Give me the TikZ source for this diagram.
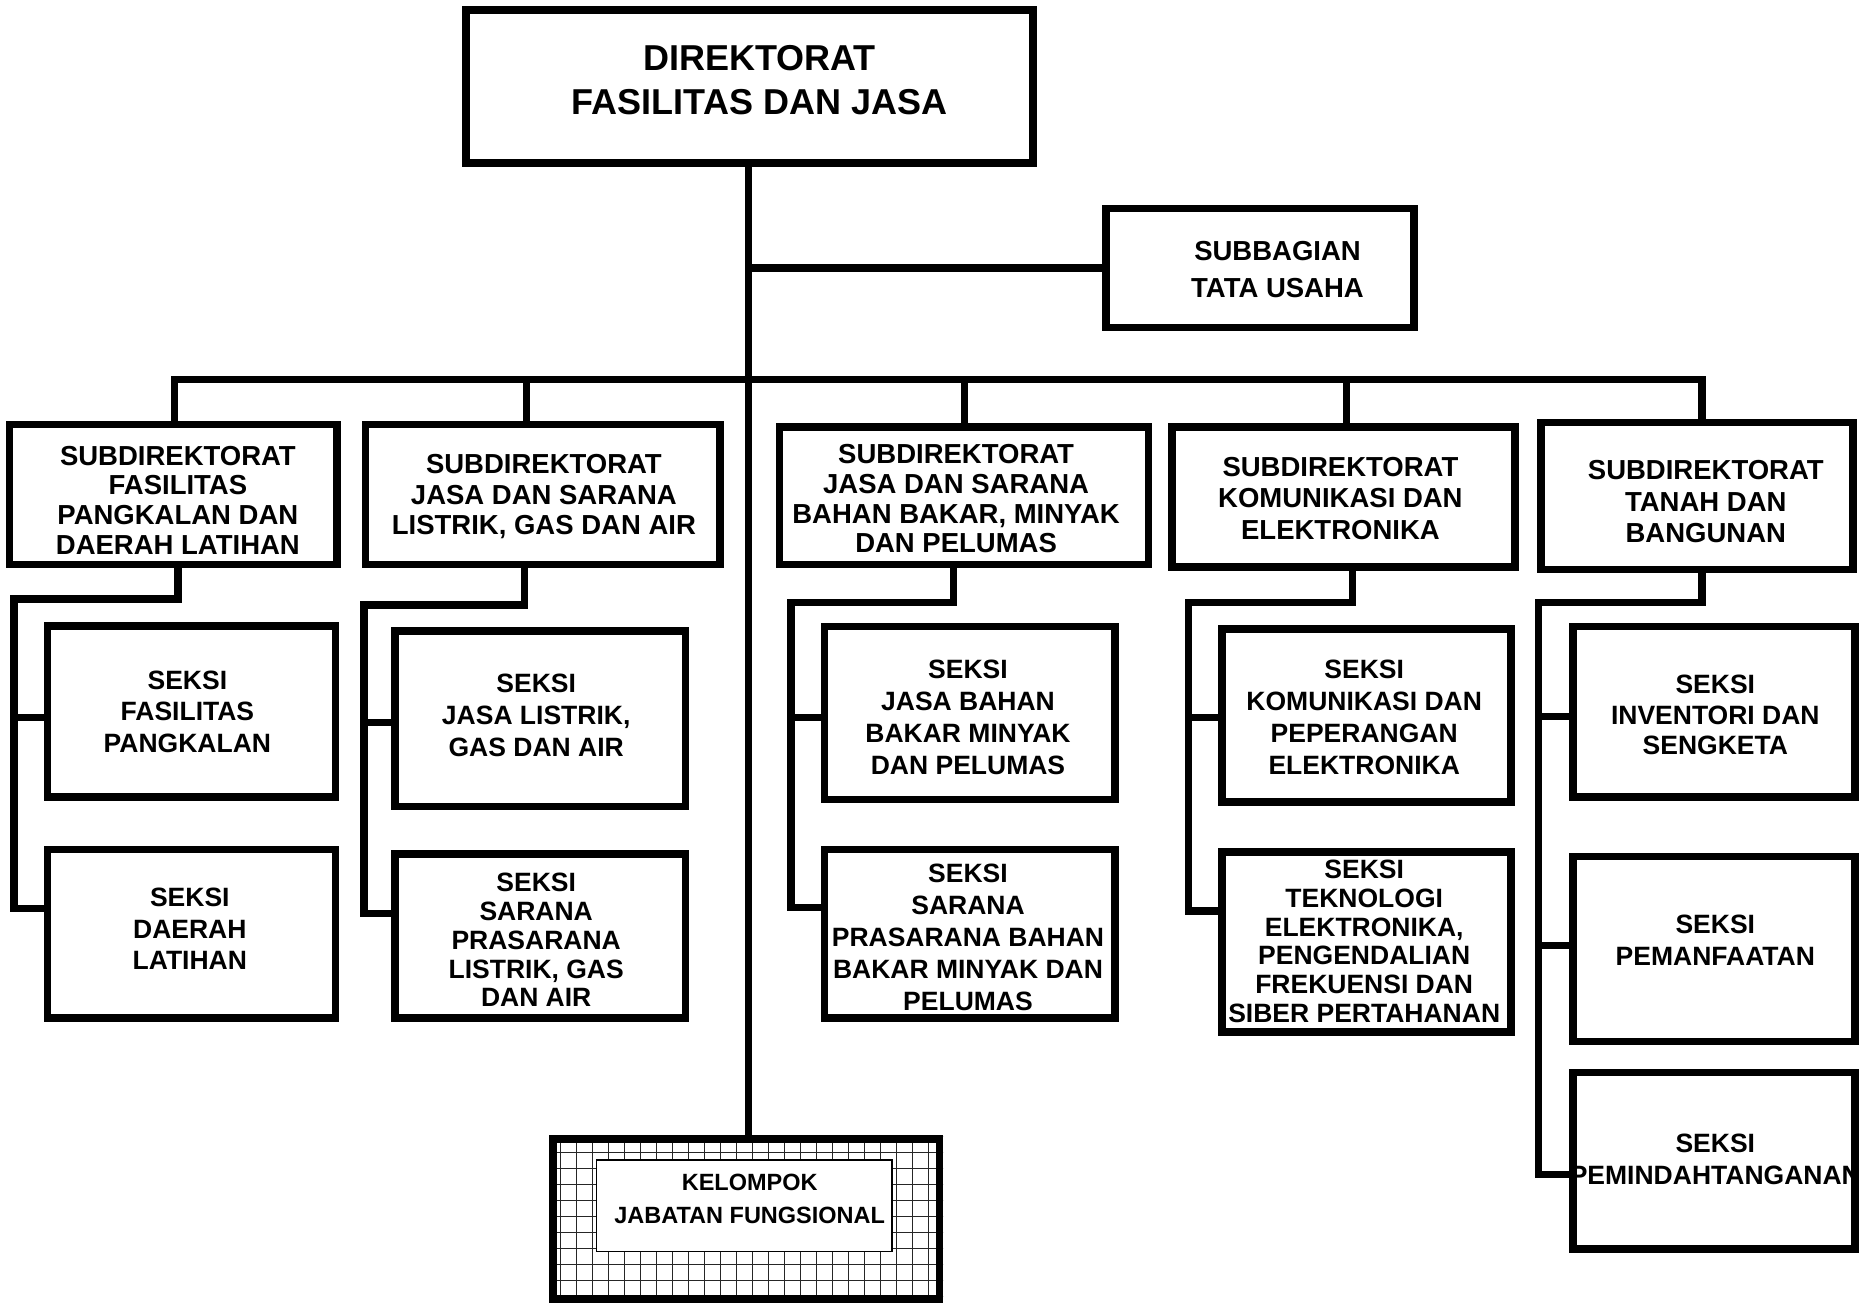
\documentclass[tikz,border=0pt]{standalone}
\usepackage{fontspec}
\setmainfont{Liberation Sans}
\begin{document}
\begin{tikzpicture}[x=1pt,y=-1pt,
  box/.style={draw, line width=7.5pt, fill=white, inner sep=0pt},
  sz/.style 2 args={minimum width=#1pt, minimum height=#2pt},
  conn/.style={line width=7.5pt},
  txt/.style 2 args={align=center, inner sep=0pt, font=\bfseries\fontsize{#1}{#2}\selectfont},
  gridl/.style={line width=1pt, black!85}
]
\useasboundingbox (0,0) rectangle (1860,1303);

% ---------- boxes ----------
\node[box, sz={567}{153}] (top) at (749.5,86.5) {};
\node[box, sz={308}{118.6}] (sub) at (1260,268) {};

\node[box, sz={327.4}{140}] (sd1) at (173.2,494.6) {};
\node[box, sz={354.6}{140}] (sd2) at (542.7,494.6) {};
\node[box, sz={369}{137.6}] (sd3) at (963.8,495.8) {};
\node[box, sz={342.8}{140}] (sd4) at (1343.4,497) {};
\node[box, sz={312}{147}] (sd5) at (1697,495.8) {};

\node[box, sz={288}{171}] (s1a) at (191.5,711.5) {};
\node[box, sz={288}{168.5}] (s1b) at (191.5,933.5) {};
\node[box, sz={290.6}{175.6}] (s2a) at (540.3,718.8) {};
\node[box, sz={290.6}{163.8}] (s2b) at (540.3,935.9) {};
\node[box, sz={290.6}{173.2}] (s3a) at (969.7,712.9) {};
\node[box, sz={290.6}{168.5}] (s3b) at (969.7,933.5) {};
\node[box, sz={289.4}{173}] (s4a) at (1366.5,715.3) {};
\node[box, sz={289.4}{180.3}] (s4b) at (1366.5,941.9) {};
\node[box, sz={282}{170.8}] (s5a) at (1714,711.7) {};
\node[box, sz={282}{185}] (s5b) at (1714,949) {};
\node[box, sz={282}{176.8}] (s5c) at (1714,1160.7) {};

% Kelompok jabatan fungsional (hatched frame)
\node[box, sz={386.7}{160}] (kel) at (746.1,1219) {};
\begin{scope}
  \clip (kel.south west) rectangle (kel.north east);
  \draw[gridl, step=16pt] ([shift={(-20pt,-20pt)}]kel.south west) grid ([shift={(20pt,20pt)}]kel.north east);
\end{scope}
\draw[line width=7.5pt] (kel.center) ++(-193.35,-80) rectangle ++(386.7,160);
\node[draw, line width=1.5pt, fill=white, inner sep=0pt, sz={295.3}{91.4}] (kelin) at (744.3,1205.8) {};

% ---------- coordinates ----------
\coordinate (bus) at (748.5,379.6);
\coordinate (d1) at (174.4,379.6);
\coordinate (d2) at (526.7,379.6);
\coordinate (d3) at (964.4,379.6);
\coordinate (d4) at (1346.4,379.6);
\coordinate (d5) at (1702.2,379.6);

\coordinate (j1) at (177.9,599);   \coordinate (c1) at (14.2,599);
\coordinate (b1a) at (14.2,717.7); \coordinate (b1b) at (14.2,908.6);
\coordinate (j2) at (524.3,605);   \coordinate (c2) at (364.2,605);
\coordinate (b2a) at (364.2,722.4); \coordinate (b2b) at (364.2,913.4);
\coordinate (j3) at (953.7,602.6); \coordinate (c3) at (791.2,602.6);
\coordinate (b3a) at (791.2,717.7); \coordinate (b3b) at (791.2,907.5);
\coordinate (j4) at (1352.3,602.6); \coordinate (c4) at (1188.6,602.6);
\coordinate (b4a) at (1188.6,717.7); \coordinate (b4b) at (1188.6,911);
\coordinate (j5) at (1702.2,602.6); \coordinate (c5) at (1538.5,602.6);
\coordinate (b5a) at (1538.5,716.5); \coordinate (b5b) at (1538.5,945.4); \coordinate (b5c) at (1538.5,1174.4);

% ---------- connectors ----------
\draw[conn] (top.south -| bus) -- (kel.north -| bus);
\draw[conn] (sub.west -| bus) -- (sub.west);
\draw[conn] (sd1.north -| d1) -- (d1) -- (d5) -- (sd5.north -| d5);
\draw[conn] (d2) -- (sd2.north -| d2);
\draw[conn] (d3) -- (sd3.north -| d3);
\draw[conn] (d4) -- (sd4.north -| d4);

\draw[conn] (sd1.south -| j1) -- (j1) -- (c1) -- (b1b) -- (s1b.west |- b1b);
\draw[conn] (b1a) -- (s1a.west |- b1a);
\draw[conn] (sd2.south -| j2) -- (j2) -- (c2) -- (b2b) -- (s2b.west |- b2b);
\draw[conn] (b2a) -- (s2a.west |- b2a);
\draw[conn] (sd3.south -| j3) -- (j3) -- (c3) -- (b3b) -- (s3b.west |- b3b);
\draw[conn] (b3a) -- (s3a.west |- b3a);
\draw[conn] (sd4.south -| j4) -- (j4) -- (c4) -- (b4b) -- (s4b.west |- b4b);
\draw[conn] (b4a) -- (s4a.west |- b4a);
\draw[conn] (sd5.south -| j5) -- (j5) -- (c5) -- (b5c) -- (s5c.west |- b5c);
\draw[conn] (b5a) -- (s5a.west |- b5a);
\draw[conn] (b5b) -- (s5b.west |- b5b);

% ---------- texts ----------
\node[txt={36}{44}] (t-top) at (759.5,80) {DIREKTORAT\\FASILITAS DAN JASA};
\node[txt={27.5}{37}] (t-sub) at (1277.5,270) {SUBBAGIAN\\TATA USAHA};

\node[txt={27.5}{29.7}] (t-sd1) at (177.9,500) {SUBDIREKTORAT\\FASILITAS\\PANGKALAN DAN\\DAERAH LATIHAN};
\node[txt={27.5}{30.2}] (t-sd2) at (543.9,496.7) {SUBDIREKTORAT\\JASA DAN SARANA\\LISTRIK, GAS DAN AIR};
\node[txt={27.5}{29.7}] (t-sd3) at (956.1,498.8) {SUBDIREKTORAT\\JASA DAN SARANA\\BAHAN BAKAR, MINYAK\\DAN PELUMAS};
\node[txt={27.5}{31.4}] (t-sd4) at (1340.4,498.2) {SUBDIREKTORAT\\KOMUNIKASI DAN\\ELEKTRONIKA};
\node[txt={27.5}{31.4}] (t-sd5) at (1705.8,501.8) {SUBDIREKTORAT\\TANAH DAN\\BANGUNAN};

\node[txt={26.5}{31.7}] (t-s1a) at (187.4,711.7) {SEKSI\\FASILITAS\\PANGKALAN};
\node[txt={26.5}{31.4}] (t-s1b) at (189.8,928.8) {SEKSI\\DAERAH\\LATIHAN};
\node[txt={26.5}{32}] (t-s2a) at (536.2,715.3) {SEKSI\\JASA LISTRIK,\\GAS DAN AIR};
\node[txt={26.5}{28.8}] (t-s2b) at (536.2,940.1) {SEKSI\\SARANA\\PRASARANA\\LISTRIK, GAS\\DAN AIR};
\node[txt={26.5}{32}] (t-s3a) at (968,717.1) {SEKSI\\JASA BAHAN\\BAKAR MINYAK\\DAN PELUMAS};
\node[txt={26.5}{32}] (t-s3b) at (968,937.1) {SEKSI\\SARANA\\PRASARANA BAHAN\\BAKAR MINYAK DAN\\PELUMAS};
\node[txt={26.5}{32}] (t-s4a) at (1364.2,717.7) {SEKSI\\KOMUNIKASI DAN\\PEPERANGAN\\ELEKTRONIKA};
\node[txt={26.5}{28.7}] (t-s4b) at (1364.2,941.3) {SEKSI\\TEKNOLOGI\\ELEKTRONIKA,\\PENGENDALIAN\\FREKUENSI DAN\\SIBER PERTAHANAN};
\node[txt={26.5}{30.5}] (t-s5a) at (1715.3,715.3) {SEKSI\\INVENTORI DAN\\SENGKETA};
\node[txt={26.5}{32}] (t-s5b) at (1715.3,940.1) {SEKSI\\PEMANFAATAN};
\node[txt={26.5}{32}] (t-s5c) at (1715.3,1159.5) {SEKSI\\PEMINDAHTANGANAN};

\node[txt={23.5}{33}] (t-kel) at (749.7,1199.3) {KELOMPOK\\JABATAN FUNGSIONAL};
\end{tikzpicture}
\end{document}
